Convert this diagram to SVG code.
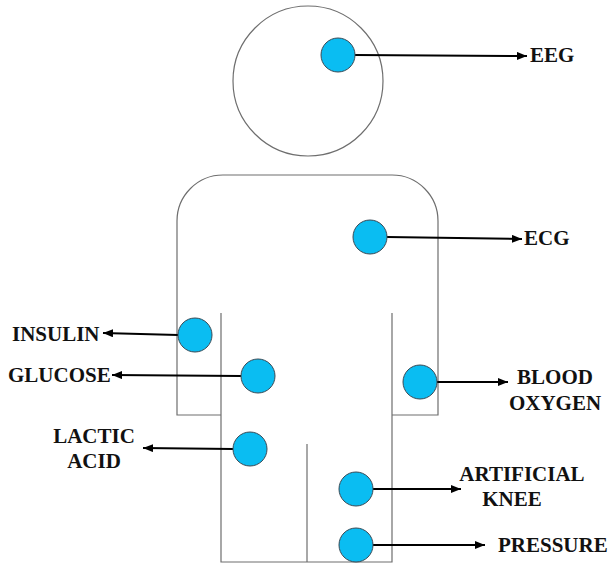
<svg xmlns="http://www.w3.org/2000/svg" width="611" height="565" viewBox="0 0 611 565">
<style>
.outline{fill:none;stroke:#6e6e6e;stroke-width:1.2}
.sensor{fill:#0ABDF2;stroke:#3c4a55;stroke-width:1}
.conn{stroke:#000;stroke-width:2;fill:none}
text{font-family:"Liberation Serif",serif;font-weight:bold;font-size:21px;fill:#111}
</style>
<defs>
<marker id="ah" viewBox="0 0 10 8" refX="10" refY="4" markerWidth="10" markerHeight="8" markerUnits="userSpaceOnUse" orient="auto">
<path d="M0,0 L10,4 L0,8 Z" fill="#000"/>
</marker>
</defs>
<g id="body">
<circle class="outline" cx="308" cy="81" r="75"/>
<path class="outline" d="M221,415 L177,415 L177,221 A46,46 0 0 1 223,175 L392,175 A46,46 0 0 1 438,221 L438,415 L392,415"/>
<path class="outline" d="M221,313 L221,562 L392,562 L392,313"/>
<path class="outline" d="M307,444 L307,562"/>
</g>
<g id="connectors">
<line class="conn" x1="355" y1="55" x2="527" y2="56" marker-end="url(#ah)"/>
<line class="conn" x1="387" y1="237" x2="522" y2="239" marker-end="url(#ah)"/>
<line class="conn" x1="178" y1="335" x2="103" y2="333" marker-end="url(#ah)"/>
<line class="conn" x1="241" y1="376" x2="112" y2="375" marker-end="url(#ah)"/>
<line class="conn" x1="233" y1="449" x2="143" y2="448" marker-end="url(#ah)"/>
<line class="conn" x1="437" y1="382" x2="508" y2="382" marker-end="url(#ah)"/>
<line class="conn" x1="373" y1="489" x2="461" y2="489" marker-end="url(#ah)"/>
<line class="conn" x1="373" y1="545" x2="485" y2="545" marker-end="url(#ah)"/>
</g>
<g id="eeg"><circle class="sensor" cx="338" cy="55" r="17"/><text x="530" y="62">EEG</text></g>
<g id="ecg"><circle class="sensor" cx="370" cy="237" r="17"/><text x="524" y="245">ECG</text></g>
<g id="insulin"><circle class="sensor" cx="195" cy="335" r="17"/><text x="12" y="341">INSULIN</text></g>
<g id="glucose"><circle class="sensor" cx="258" cy="376" r="17"/><text x="8" y="382">GLUCOSE</text></g>
<g id="lactic-acid"><circle class="sensor" cx="250" cy="449" r="17"/><text x="94" y="443" text-anchor="middle">LACTIC</text><text x="94" y="468" text-anchor="middle">ACID</text></g>
<g id="blood-oxygen"><circle class="sensor" cx="420" cy="382" r="17"/><text x="555" y="384" text-anchor="middle">BLOOD</text><text x="555" y="410" text-anchor="middle">OXYGEN</text></g>
<g id="artificial-knee"><circle class="sensor" cx="356" cy="489" r="17"/><text x="522" y="481" text-anchor="middle">ARTIFICIAL</text><text x="512" y="506" text-anchor="middle">KNEE</text></g>
<g id="pressure"><circle class="sensor" cx="356" cy="545" r="17"/><text x="498" y="552">PRESSURE</text></g>
</svg>
